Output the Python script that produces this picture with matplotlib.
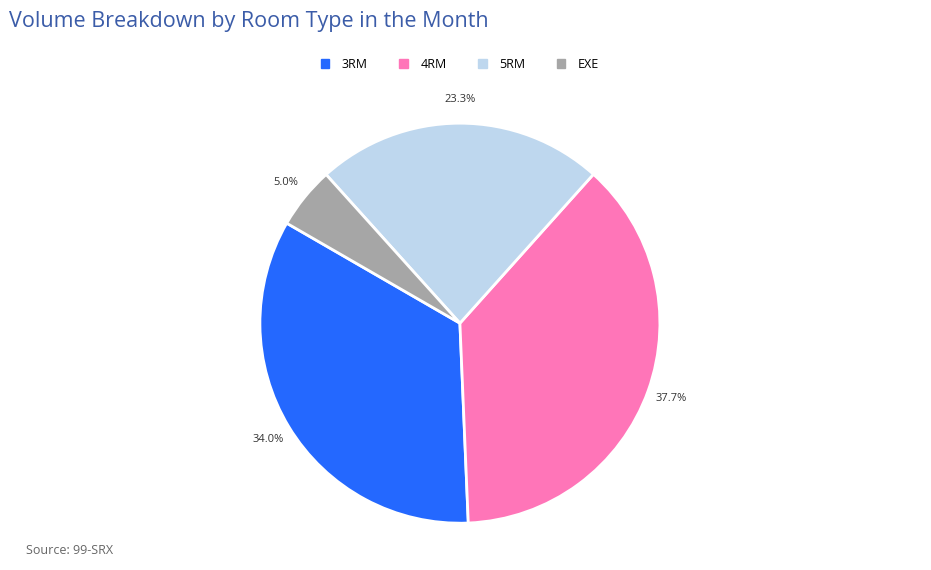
import matplotlib.pyplot as plt
from matplotlib.patches import Patch

room_types = ["3RM", "4RM", "5RM", "EXE"]
shares = [34.0, 37.7, 23.3, 5.0]
colors = ["#2468ff", "#ff75b8", "#bed7ee", "#a6a6a6"]

plt.rcParams['font.family'] = ['Open Sans', 'DejaVu Sans']

fig = plt.figure(figsize=(9.31, 5.70), dpi=100)
ax = fig.add_axes([0.494 - 200 / 931, 0.433 - 200 / 570, 400 / 931, 400 / 570])

wedges, texts, autotexts = ax.pie(
    shares, colors=colors, startangle=150, counterclock=True,
    autopct="%.1f%%", pctdistance=1.12,
    wedgeprops=dict(edgecolor="white", linewidth=2),
    textprops=dict(fontsize=8, color="#333333"))
for t in autotexts:
    t.set_clip_on(False)
ax.set_xlim(-1, 1)
ax.set_ylim(-1, 1)
ax.set_aspect("equal")

fig.text(0.01, 0.963, "Volume Breakdown by Room Type in the Month",
         fontsize=15.5, color="#3b5ca8", va="center")
fig.text(0.028, 0.022, "Source: 99-SRX", fontsize=9, color="#666666", va="bottom")

handles = [Patch(facecolor=c, edgecolor=c) for c in colors]
fig.legend(handles, room_types, loc="center", bbox_to_anchor=(0.494, 0.887),
           ncol=4, frameon=False, fontsize=9, handlelength=0.7, handleheight=0.7,
           columnspacing=2.5, handletextpad=1.0)

fig.savefig("out.png", dpi=100)
